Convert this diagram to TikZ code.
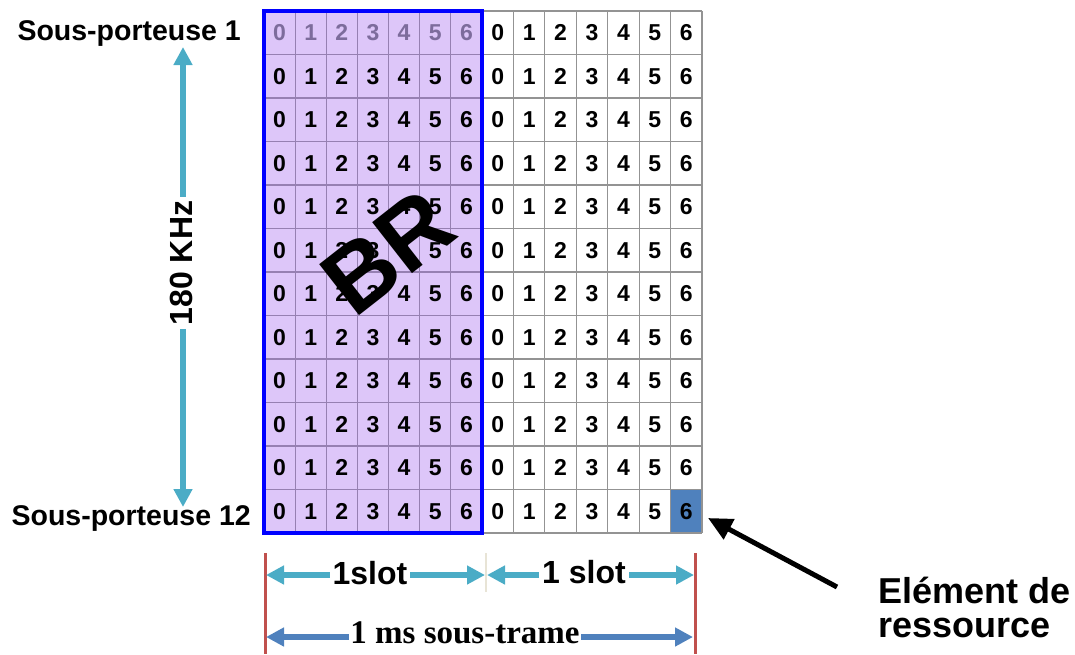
\documentclass[tikz,border=0pt]{standalone}
\usepackage{fontspec}
\setmainfont{Liberation Sans}
\newfontfamily\timesfont{Liberation Serif}
\usepackage{tikz}
\usetikzlibrary{arrows.meta}
\definecolor{rbfill}{RGB}{221,198,249}
\definecolor{rbgrid}{RGB}{150,128,178}
\definecolor{rbfaded}{RGB}{125,108,156}
\definecolor{refill}{RGB}{79,129,189}
\definecolor{slotteal}{RGB}{75,172,198}
\definecolor{framered}{RGB}{192,80,77}
\definecolor{framebeige}{RGB}{232,228,214}
\tikzset{
  digit/.style={font=\fontsize{23}{23}\selectfont\bfseries, inner sep=0pt},
  lbl/.style={font=\fontsize{28.5}{32}\selectfont\bfseries, inner sep=0pt},
  dimlbl/.style={font=\fontsize{32}{32}\selectfont\bfseries, fill=white, inner sep=3pt},
  rbline/.style={draw=rbgrid, line width=1.2pt},
  gridline/.style={draw=gray!85, line width=1.2pt},
  tealarrow/.style={draw=slotteal, line width=6pt, {Triangle[length=18pt,width=18pt]}-{Triangle[length=18pt,width=18pt]}},
  framearrow/.style={draw=refill, line width=6pt, {Triangle[length=18pt,width=18pt]}-{Triangle[length=18pt,width=18pt]}},
  slotmark/.style={draw=framered, line width=3pt},
  pointer/.style={draw=black, line width=5pt, -{Triangle[length=24pt,width=22pt]}}
}

\begin{document}
\begin{tikzpicture}[x=1pt,y=-1pt]
  \useasboundingbox (0,0) rectangle (1075,654);

  % Resource block background and one resource element
  \fill[rbfill] (264,11) rectangle (482,533);
  \fill[refill] (670.6,489.5) rectangle (702,533);

  % Grid: 12 subcarriers x 14 symbols
  \foreach \i in {1,...,6}
    \draw[rbline] ({264+\i*31.14},11) -- ({264+\i*31.14},533);
  \foreach \j in {1,...,11}
    \draw[rbline] (264,{11+\j*43.5}) -- (482,{11+\j*43.5});
  \foreach \i in {1,...,7}
    \draw[gridline] ({482+\i*31.43},11) -- ({482+\i*31.43},533);
  \foreach \j in {0,...,12}
    \draw[gridline] (482,{11+\j*43.5}) -- (702,{11+\j*43.5});

  % Symbol numbers
  \foreach \c in {0,...,6} {
    \node[digit, text=rbfaded] (l-1-\c) at ({264+(\c+0.5)*31.14},32.75) {\c};
    \node[digit] (r-1-\c) at ({482+(\c+0.5)*31.43},32.75) {\c};
  }
  \foreach \r in {2,...,12}
    \foreach \c in {0,...,6} {
      \node[digit] (l-\r-\c) at ({264+(\c+0.5)*31.14},{11+(\r-0.5)*43.5}) {\c};
      \node[digit] (r-\r-\c) at ({482+(\c+0.5)*31.43},{11+(\r-0.5)*43.5}) {\c};
    }

  % Resource block outline
  \draw[blue, line width=4pt] (264,11) rectangle (482,533);
  \node[rotate=38, font=\fontsize{94}{94}\selectfont\bfseries, inner sep=0pt] (br) at (388,252) {BR};

  % Subcarrier labels and bandwidth
  \node[lbl, anchor=base east] (sp1) at (241,40) {Sous-porteuse 1};
  \node[lbl, anchor=base east] (sp12) at (251,525) {Sous-porteuse 12};
  \coordinate (ftop) at (183,47);
  \coordinate (fbot) at (183,507);
  \draw[tealarrow] (ftop) -- (fbot);
  \node[dimlbl, rotate=90, inner sep=4pt] (bw) at (181,263) {180 KHz};

  % Slot and subframe durations
  \coordinate (t0) at (265,553);
  \coordinate (t0b) at (265,654);
  \coordinate (t2) at (695,553);
  \coordinate (t2b) at (695,654);
  \draw[slotmark] (t0) -- (t0b);
  \draw[slotmark] (t2) -- (t2b);
  \draw[framebeige, line width=2pt] (486,553) -- (486,592);

  \coordinate (s1a) at (266,575);
  \coordinate (s1b) at (485,575);
  \coordinate (s2a) at (487,575);
  \coordinate (s2b) at (694,575);
  \draw[tealarrow] (s1a) -- (s1b);
  \draw[tealarrow] (s2a) -- (s2b);
  \node[dimlbl, anchor=base] (slot1) at (370,584) {1slot};
  \node[dimlbl, anchor=base] (slot2) at (584,583) {1 slot};

  \coordinate (ma) at (266,637);
  \coordinate (mb) at (693,637);
  \draw[framearrow] (ma) -- (mb);
  \node[font=\timesfont\fontsize{33}{33}\selectfont\bfseries, fill=white, inner sep=1pt, anchor=base] (sub) at (465,643) {1 ms sous-trame};

  % Resource element pointer
  \node[font=\fontsize{36}{34}\selectfont\bfseries, align=left, anchor=west, inner sep=0pt] (elem) at (878,607) {Elément de\\ressource};
  \coordinate (ptail) at (837,587);
  \coordinate (ptip) at (708,518);
  \draw[pointer] (ptail) -- (ptip);
\end{tikzpicture}
\end{document}
